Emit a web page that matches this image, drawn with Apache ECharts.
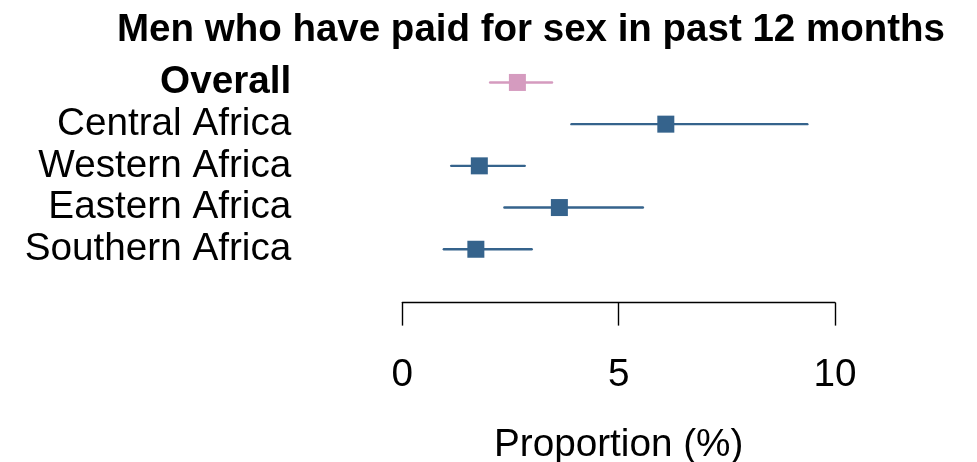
<!DOCTYPE html>
<html>
<head>
<meta charset="utf-8">
<script src="https://cdn.jsdelivr.net/npm/echarts@6/dist/echarts.min.js"></script>
<style>
  html, body { margin: 0; padding: 0; background: #ffffff; }
  #chart { width: 977px; height: 462px; }
</style>
</head>
<body>
<div id="chart"></div>
<script>
// Forest plot: proportion of men who paid for sex, with 95% CI per region
const regions = ['Overall', 'Central Africa', 'Western Africa', 'Eastern Africa', 'Southern Africa'];
const estimates = [2.66, 6.09, 1.78, 3.63, 1.70];
const lower = [2.03, 3.91, 1.13, 2.36, 0.96];
const upper = [3.46, 9.36, 2.83, 5.56, 2.99];
const xTicks = [0, 5, 10];

const FONT = '"Liberation Sans", Arial, sans-serif';
const SIZE = 38.7;
const BLUE = '#35638c';
const PINK = '#d59bbf';
const colorFor = (i) => (i === 0 ? PINK : BLUE);

const chart = echarts.init(document.getElementById('chart'), null, { renderer: 'canvas' });

const whiskers = regions.map((r, i) => [lower[i], upper[i], i]);
const points = regions.map((r, i) => ({
  value: [estimates[i], i],
  itemStyle: { color: colorFor(i), opacity: 1 }
}));

chart.setOption({
  animation: false,
  backgroundColor: '#ffffff',
  title: {
    text: 'Men who have paid for sex in past 12 months',
    left: 526,
    top: 6,
    textAlign: 'center',
    textStyle: { fontFamily: FONT, fontWeight: 'bold', fontSize: 38.5, color: '#000000' }
  },
  grid: { left: 402.3, right: 142, top: 61.6, height: 208.5, outerBoundsMode: 'none', containLabel: false },
  xAxis: {
    type: 'value',
    min: 0,
    max: 10,
    interval: 5,
    offset: 32.5,
    name: 'Proportion (%)',
    nameLocation: 'middle',
    nameGap: 123,
    nameTextStyle: { fontFamily: FONT, fontSize: SIZE, color: '#000000' },
    axisLine: { show: true, lineStyle: { color: '#000000', width: 1.4 } },
    axisTick: { show: true, length: 23, lineStyle: { color: '#000000', width: 1.4 } },
    axisLabel: {
      margin: 53,
      fontFamily: FONT,
      fontSize: SIZE,
      color: '#000000',
      formatter: (v) => (xTicks.includes(v) ? String(v) : '')
    },
    splitLine: { show: false }
  },
  yAxis: {
    type: 'category',
    data: regions,
    inverse: true,
    axisLine: { show: false },
    axisTick: { show: false },
    splitLine: { show: false },
    axisLabel: {
      interval: 0,
      margin: 111,
      fontFamily: FONT,
      fontSize: SIZE,
      color: '#000000',
      formatter: (v) => (v === 'Overall' ? '{b|' + v + '}' : v),
      rich: { b: { fontFamily: FONT, fontSize: SIZE, fontWeight: 'bold', color: '#000000' } }
    }
  },
  series: [
    {
      type: 'custom',
      data: whiskers,
      encode: { x: [0, 1], y: 2 },
      renderItem: (params, api) => {
        const i = api.value(2);
        const a = api.coord([api.value(0), i]);
        const b = api.coord([api.value(1), i]);
        return {
          type: 'line',
          shape: { x1: a[0], y1: a[1], x2: b[0], y2: b[1] },
          style: { stroke: colorFor(i), lineWidth: 2.4, lineCap: 'round' }
        };
      },
      z: 2
    },
    {
      type: 'scatter',
      data: points,
      symbol: 'rect',
      symbolSize: 17,
      z: 3
    }
  ]
});
</script>
</body>
</html>
